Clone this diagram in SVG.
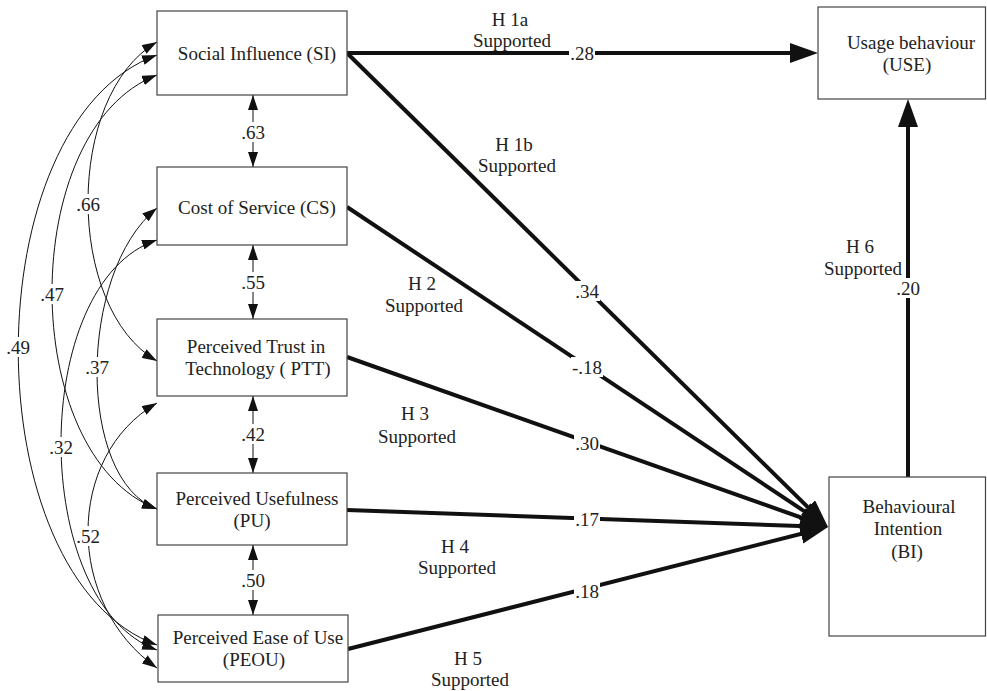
<svg xmlns="http://www.w3.org/2000/svg" width="987" height="691" viewBox="0 0 987 691">
<defs>
<marker id="big" markerUnits="userSpaceOnUse" viewBox="0 0 28 20" markerWidth="28" markerHeight="20" refX="22" refY="10" orient="auto"><path d="M0,0 L28,10 L0,20 z" fill="#111"/></marker>
<marker id="sm" markerUnits="userSpaceOnUse" viewBox="0 0 15 10" markerWidth="15" markerHeight="10" refX="15" refY="5" orient="auto-start-reverse"><path d="M0,0 L15,5 L0,10 z" fill="#111"/></marker>
<style>
.box{fill:#fff;stroke:#444;stroke-width:1.2}
.t text{font-size:19px;fill:#222;text-anchor:middle;dominant-baseline:central}
.thick{fill:none;stroke:#111;stroke-width:4;marker-end:url(#big)}
.cov{fill:none;stroke:#111;stroke-width:1;marker-start:url(#sm);marker-end:url(#sm)}
.gap{fill:#fff}
</style>
</defs>
<rect width="987" height="691" fill="#fff"/>
<g class="t" font-family="'Liberation Serif', 'DejaVu Serif', serif">
<g id="connectors">
  <path class="cov" d="M157,42 C65,95 65,308 157,361"/>
  <path class="cov" d="M157,75 C17,129 17,455 157,509"/>
  <path class="cov" d="M157,55 C-28,122 -28,578 157,645"/>
  <path class="cov" d="M157,208 C77,273 77,480 157,509"/>
  <path class="cov" d="M157,240 C29,282 29,603 157,650"/>
  <path class="cov" d="M157,403 C65,456 65,604 157,668"/>
  <path class="cov" d="M253,95 L253,167"/>
  <path class="cov" d="M253,245 L253,319"/>
  <path class="cov" d="M253,396 L253,473"/>
  <path class="cov" d="M253,545 L253,615"/>
  <path class="thick" d="M347,53 L812,53"/>
  <path class="thick" d="M347,53 L823.7,522.8"/>
  <path class="thick" d="M347,207 L823,523.7"/>
  <path class="thick" d="M347,357 L822.3,525"/>
  <path class="thick" d="M347,510 L822,526.8"/>
  <path class="thick" d="M348,649 L822.2,528.5"/>
  <path class="thick" d="M908,477 L908,105"/>
  <g class="gap">
    <rect x="76" y="194" width="24" height="20"/>
    <rect x="40" y="284" width="24" height="20"/>
    <rect x="6" y="337" width="24" height="20"/>
    <rect x="85" y="357" width="24" height="20"/>
    <rect x="49" y="437" width="24" height="20"/>
    <rect x="76" y="526" width="24" height="20"/>
    <rect x="241" y="122" width="24" height="20"/>
    <rect x="241" y="272" width="24" height="20"/>
    <rect x="241" y="424" width="24" height="20"/>
    <rect x="241" y="570" width="24" height="20"/>
    <rect x="569" y="43" width="26" height="20"/>
    <rect x="574" y="281" width="26" height="20"/>
    <rect x="571" y="357" width="32" height="20"/>
    <rect x="574" y="433" width="26" height="20"/>
    <rect x="574" y="509" width="26" height="20"/>
    <rect x="574" y="581" width="26" height="20"/>
    <rect x="896" y="278" width="24" height="20"/>
  </g>
  <text x="88" y="204">.66</text>
  <text x="52" y="294">.47</text>
  <text x="18" y="347">.49</text>
  <text x="97" y="367">.37</text>
  <text x="61" y="447">.32</text>
  <text x="88" y="536">.52</text>
  <text x="253" y="132">.63</text>
  <text x="253" y="282">.55</text>
  <text x="253" y="434">.42</text>
  <text x="253" y="580">.50</text>
  <text x="582" y="53">.28</text>
  <text x="587" y="291">.34</text>
  <text x="587" y="367">-.18</text>
  <text x="587" y="443">.30</text>
  <text x="587" y="519">.17</text>
  <text x="587" y="591">.18</text>
  <text x="908" y="288">.20</text>
  <text x="510" y="19">H 1a</text>
  <text x="512" y="40">Supported</text>
  <text x="514" y="144">H 1b</text>
  <text x="517" y="165">Supported</text>
  <text x="422" y="283">H 2</text>
  <text x="424" y="305">Supported</text>
  <text x="415" y="413">H 3</text>
  <text x="417" y="436">Supported</text>
  <text x="455" y="546">H 4</text>
  <text x="457" y="567">Supported</text>
  <text x="468" y="658">H 5</text>
  <text x="470" y="679">Supported</text>
  <text x="860" y="246">H 6</text>
  <text x="863" y="268">Supported</text>
</g>
<g id="SI">
  <rect class="box" x="157" y="11" width="190" height="84"/>
  <text x="257" y="53">Social Influence (SI)</text>
</g>
<g id="CS">
  <rect class="box" x="157" y="167" width="190" height="78"/>
  <text x="257" y="207">Cost of Service (CS)</text>
</g>
<g id="PTT">
  <rect class="box" x="157" y="319" width="190" height="77"/>
  <text x="256" y="346">Perceived Trust in</text>
  <text x="258" y="368">Technology ( PTT)</text>
</g>
<g id="PU">
  <rect class="box" x="157" y="473" width="190" height="72"/>
  <text x="257" y="498">Perceived Usefulness</text>
  <text x="252" y="520">(PU)</text>
</g>
<g id="PEOU">
  <rect class="box" x="158" y="615" width="190" height="67"/>
  <text x="258" y="637">Perceived Ease of Use</text>
  <text x="254" y="659">(PEOU)</text>
</g>
<g id="USE">
  <rect class="box" x="818" y="7" width="167.5" height="92"/>
  <text x="911" y="42">Usage behaviour</text>
  <text x="907" y="64">(USE)</text>
</g>
<g id="BI">
  <rect class="box" x="829" y="477" width="156.5" height="159"/>
  <text x="909" y="506">Behavioural</text>
  <text x="908" y="528">Intention</text>
  <text x="907" y="551">(BI)</text>
</g>
</g>
</svg>
